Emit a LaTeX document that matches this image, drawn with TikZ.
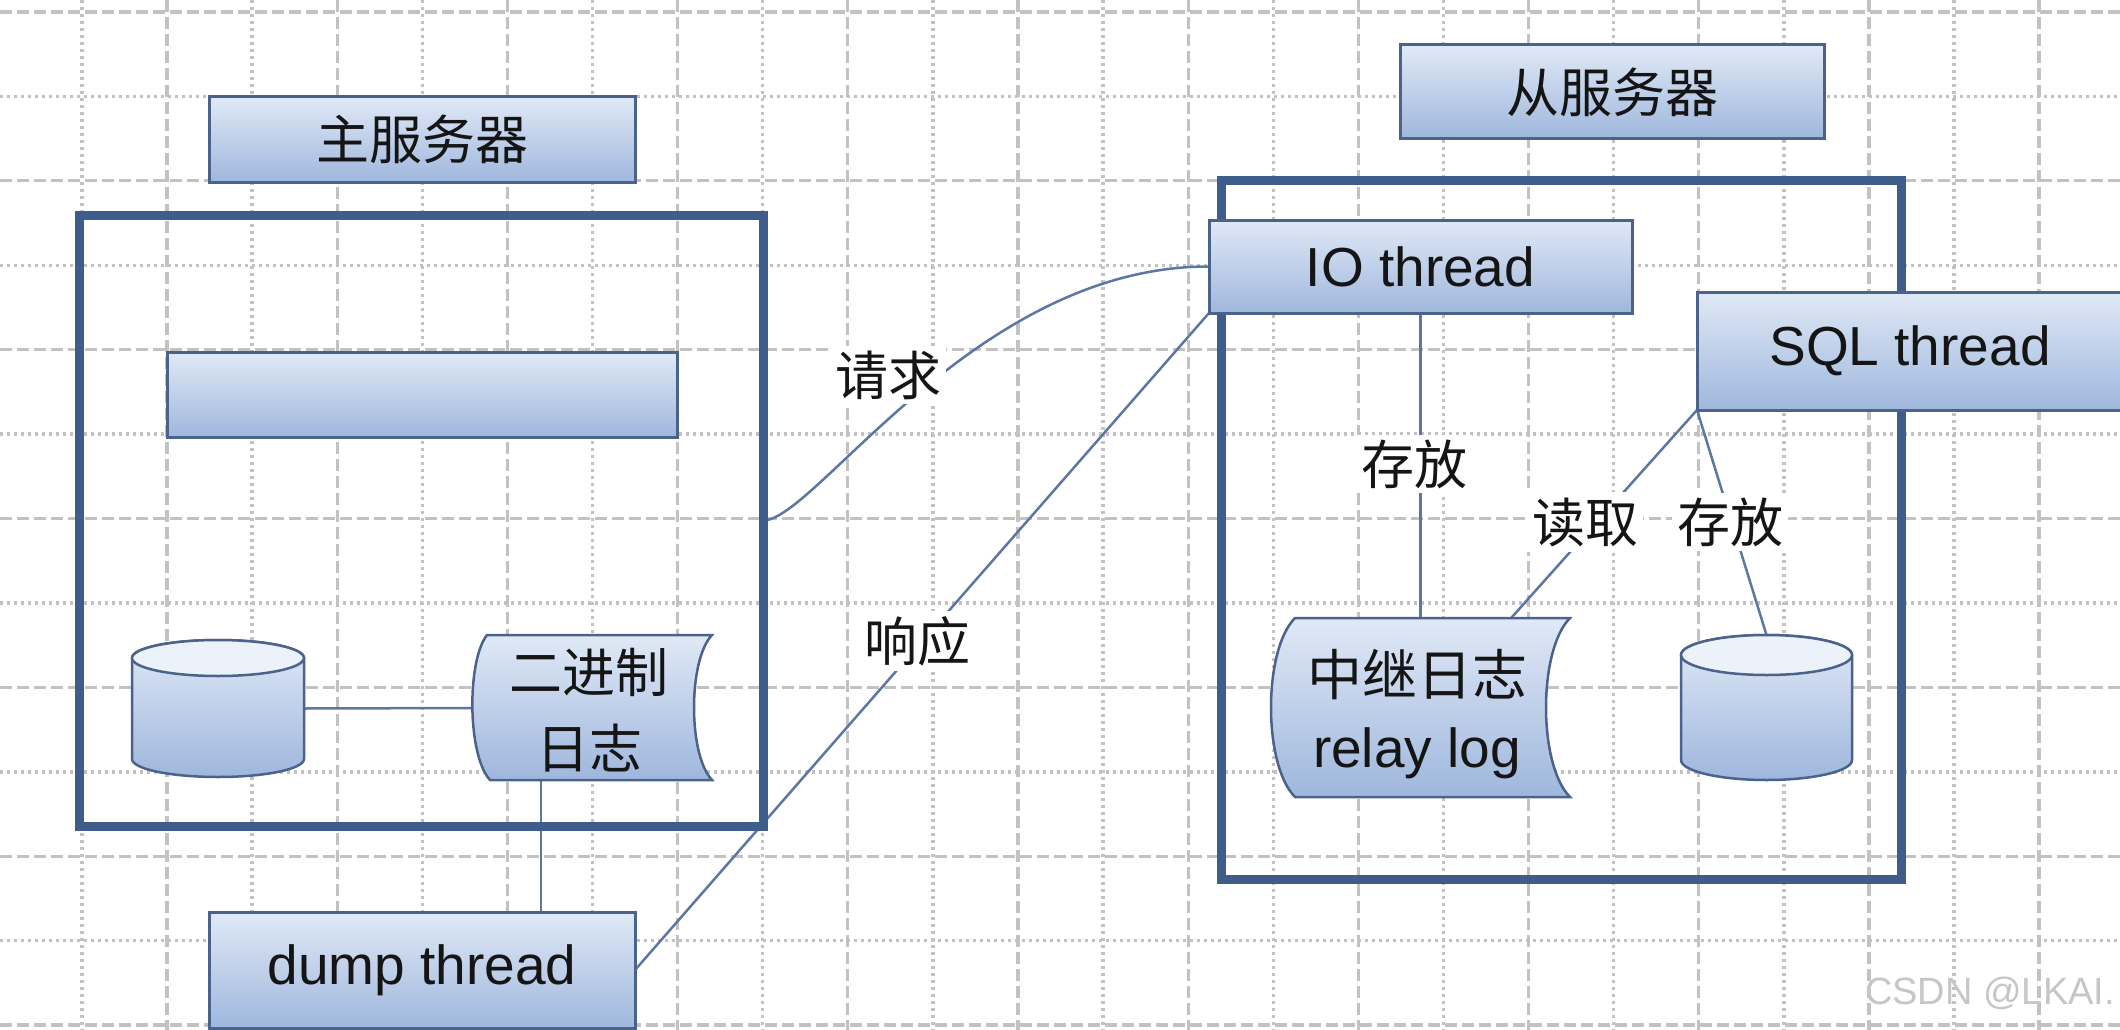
\documentclass[tikz,border=0pt]{standalone}
\usepackage{fontspec}
\setmainfont{Liberation Sans}
\newfontfamily\cjkf{Noto Sans CJK SC}
\usetikzlibrary{calc,backgrounds}
\definecolor{boxtop}{HTML}{E0E9F6}
\definecolor{boxbot}{HTML}{9FB7DD}
\definecolor{boxline}{HTML}{4B628A}
\definecolor{frameline}{HTML}{3F5D8B}
\definecolor{connc}{HTML}{5C77A2}
\definecolor{gridc}{HTML}{C2C2C2}
\definecolor{txt}{HTML}{151515}
\newcommand\mycyl[5]{% cx, ytop, ybot, rx, ry
  \draw[draw=boxline, line width=2.5pt, top color=boxtop, bottom color=boxbot]
    (#1-#4,#2+#5) -- (#1-#4,#3-#5)
    arc[start angle=180,end angle=360,x radius=#4pt,y radius=#5pt]
    -- (#1+#4,#2+#5)
    arc[start angle=0,end angle=180,x radius=#4pt,y radius=#5pt] -- cycle;
  \draw[draw=boxline, line width=2.5pt, fill=boxtop!60!white]
    (#1,#2+#5) ellipse[x radius=#4pt, y radius=#5pt];
}
\begin{document}
\begin{tikzpicture}[x=1pt,y=-1pt,
  gridA/.style={draw=gridc, line width=3.2pt, dash pattern=on 12pt off 5pt},
  gridB/.style={draw=gridc, line width=3.5pt, dash pattern=on 3pt off 4pt},
  bluebox/.style={draw=boxline, line width=3pt, top color=boxtop, bottom color=boxbot,
    inner sep=0pt, outer sep=0pt, text=txt},
  docshape/.style={draw=boxline, line width=2.5pt, top color=boxtop, bottom color=boxbot},
  bigframe/.style={draw=frameline, line width=9pt, inner sep=0pt, outer sep=0pt},
  connl/.style={draw=connc, line width=2.5pt},
  latinf/.style={font=\fontsize{55}{66}\selectfont},
  cjkt/.style={font=\cjkf\fontsize{53}{60}\selectfont},
  lbl/.style={fill=white, inner sep=5pt, text=txt, font=\cjkf\fontsize{53}{60}\selectfont},
  anchorbox/.style={inner sep=0pt, outer sep=0pt}
]
\useasboundingbox (0,0) rectangle (2120,1030);

% frames
\node[bigframe, minimum width=684pt, minimum height=611pt] (master) at (421,520.5) {};
\node[bigframe, minimum width=680pt, minimum height=699pt] (slave) at (1561,529.5) {};

% anchors for drawn shapes
\node[anchorbox, minimum width=172pt, minimum height=137pt] (mdb) at (218,708.5) {};
\node[anchorbox, minimum width=171pt, minimum height=145pt] (sdb) at (1766.5,707.5) {};
\coordinate (binlogL) at (472,708);
\coordinate (binlogB) at (541,780);
\coordinate (relayT) at (1420.5,618);
\coordinate (relayR) at (1487,645);

% boxes
\node[bluebox, minimum width=426pt, minimum height=116pt, latinf] (dump) at (422,970) {dump thread};
\node[bluebox, minimum width=423pt, minimum height=93pt, latinf] (io) at (1420.5,266.5) {IO thread};
\node[bluebox, minimum width=426pt, minimum height=118pt, latinf] (sql) at (1910,351) {SQL thread};
\node[bluebox, minimum width=426pt, minimum height=85pt, cjkt] (mtitle) at (422,139.5) {主服务器};
\node[bluebox, minimum width=510pt, minimum height=85pt] (bar) at (422,394.5) {};
\node[bluebox, minimum width=424pt, minimum height=94pt, cjkt] (stitle) at (1612,92) {从服务器};

% drawn shapes
\mycyl{218}{640}{777}{86}{18}
\draw[docshape] (487,635) -- (712,635) .. controls (688,660) and (688,755) .. (712,780)
  -- (490,780) .. controls (467,755) and (467,660) .. (487,635) -- cycle;
\node[align=center, text=txt, font=\cjkf\fontsize{53}{76}\selectfont] (binlog) at (589,710) {二进制\\日志};
\draw[docshape] (1295,618) -- (1570,618) .. controls (1538,650) and (1538,765) .. (1570,797)
  -- (1295,797) .. controls (1263,765) and (1263,650) .. (1295,618) -- cycle;
\node[align=center, text=txt, font=\fontsize{55}{72}\selectfont] (relay) at (1417,714) {{\cjkf 中继日志}\\relay log};
\mycyl{1766.5}{635}{780}{85.5}{20}

% labels
\node[lbl] (req) at (888,375) {请求};
\node[lbl] (resp) at (917,641) {响应};
\node[lbl] (store1) at (1414,464) {存放};
\node[lbl] (read) at (1585,522) {读取};
\node[lbl] (store2) at (1730,522) {存放};

% watermark
\node[text=gray!45, font=\fontsize{38}{40}\selectfont] (wm) at (1990,993) {CSDN @LKAI.};

\begin{scope}[on background layer]
  \fill[white] (0,0) rectangle (2120,1030);
  \foreach \k in {0,...,24}{
    \pgfmathsetmacro\gx{82+85.09*\k}
    \ifodd\k
      \draw[gridA] (\gx,0) -- (\gx,1030);
    \else
      \draw[gridB] (\gx,0) -- (\gx,1030);
    \fi
  }
  \foreach \k in {0,...,12}{
    \pgfmathsetmacro\gy{12+84.42*\k}
    \ifodd\k
      \draw[gridB] (0,\gy) -- (2120,\gy);
    \else
      \draw[gridA] (0,\gy) -- (2120,\gy);
    \fi
  }
  % connectors
  \draw[connl] (mdb.east) -- (binlogL);
  \draw[connl] (binlogB) -- (binlogB |- dump.north);
  \draw[connl] (master.east) .. controls (815,521) and (975,266) .. (io.west);
  \draw[connl] (dump.east) -- (io.south west);
  \draw[connl] (io.south) -- (relayT);
  \draw[connl] (sql.south west) -- (relayR);
  \draw[connl] (sql.south west) -- (sdb.north);
\end{scope}
\end{tikzpicture}
\end{document}
